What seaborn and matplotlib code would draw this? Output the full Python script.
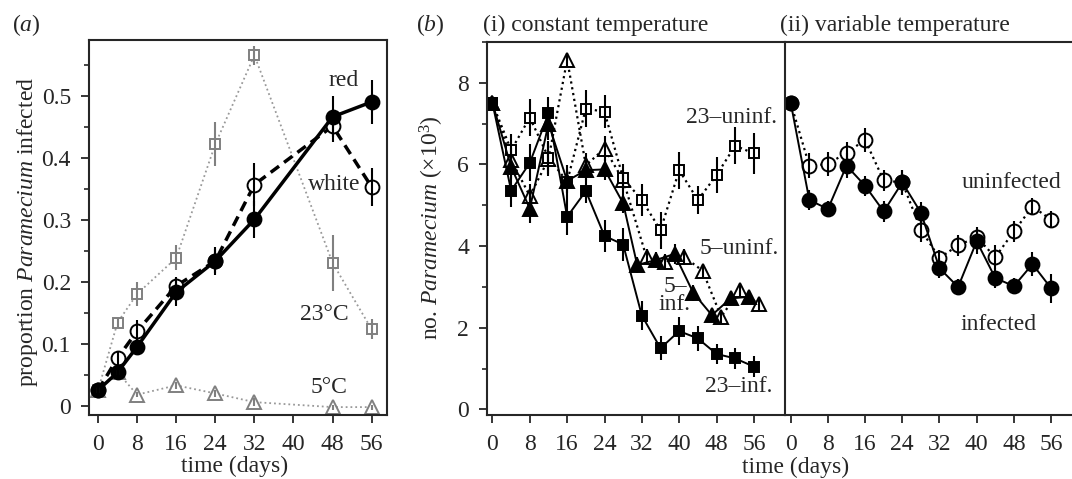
import numpy as np
import pandas as pd
import matplotlib
matplotlib.use('Agg')
import matplotlib.pyplot as plt
import seaborn as sns
from matplotlib.ticker import MultipleLocator

# (a) proportion of Paramecium infected
days_a = [0, 4, 8, 16, 24, 32, 48, 56]
red = [0.026, 0.055, 0.096, 0.184, 0.234, 0.301, 0.466, 0.490]
red_err = [0.005, 0.01, 0.01, 0.022, 0.022, 0.03, 0.033, 0.035]
white = [0.026, 0.078, 0.121, 0.194, 0.234, 0.357, 0.451, 0.353]
white_err = [0.005, 0.012, 0.018, 0.015, 0.02, 0.035, 0.025, 0.03]
temp23 = [0.026, 0.135, 0.181, 0.239, 0.422, 0.565, 0.231, 0.124]
temp23_err = [0.005, 0.008, 0.02, 0.02, 0.035, 0.015, 0.045, 0.016]
temp5 = [0.026, 0.055, 0.019, 0.034, 0.021, 0.007, -0.001, -0.001]
temp5_err = [0.004, 0.004, 0.004, 0.006, 0.006, 0.006, 0.004, 0.004]

# (b)(i) constant temperature, numbers (x1000)
days_b = [0, 4, 8, 12, 16, 20, 24, 28, 32, 36, 40, 44, 48, 52, 56]
days_tri_inf = [0, 4, 8, 12, 16, 20, 24, 28, 31, 35, 39, 43, 47, 51, 55]
days_tri_uninf = [0, 4, 8, 12, 16, 20, 24, 28, 33, 37, 41, 45, 49, 53, 57]
uninf23 = [7.5, 6.35, 7.15, 6.17, 5.58, 7.37, 7.29, 5.66, 5.13, 4.39, 5.86, 5.13, 5.74, 6.46, 6.27]
uninf23_err = [0.1, 0.4, 0.45, 0.4, 0.4, 0.45, 0.4, 0.35, 0.4, 0.45, 0.45, 0.35, 0.45, 0.45, 0.5]
inf23 = [7.5, 5.36, 6.04, 7.25, 4.72, 5.35, 4.25, 4.04, 2.30, 1.50, 1.92, 1.74, 1.36, 1.25, 1.05]
inf23_err = [0.1, 0.4, 0.45, 0.4, 0.45, 0.3, 0.4, 0.4, 0.35, 0.3, 0.35, 0.3, 0.25, 0.25, 0.25]
inf5 = [7.5, 5.94, 4.92, 7.0, 5.6, 5.86, 5.88, 5.05, 3.54, 3.66, 3.81, 2.86, 2.31, 2.72, 2.76]
inf5_err = [0.1, 0.3, 0.35, 0.4, 0.3, 0.25, 0.25, 0.25, 0.2, 0.2, 0.25, 0.2, 0.15, 0.15, 0.15]
uninf5 = [7.5, 6.11, 5.23, 6.13, 8.57, 5.98, 6.39, 5.62, 3.73, 3.62, 3.74, 3.40, 2.27, 2.93, 2.58]
uninf5_err = [0.1, 0.3, 0.3, 0.4, 0.15, 0.3, 0.3, 0.25, 0.2, 0.2, 0.2, 0.15, 0.15, 0.15, 0.15]

# (b)(ii) variable temperature
var_inf = [7.51, 5.13, 4.91, 5.97, 5.48, 4.85, 5.56, 4.82, 3.46, 3.0, 4.12, 3.22, 3.02, 3.56, 2.97]
var_inf_err = [0.05, 0.25, 0.2, 0.3, 0.25, 0.25, 0.3, 0.25, 0.25, 0.2, 0.3, 0.25, 0.2, 0.3, 0.35]
var_uninf = [7.51, 5.97, 6.01, 6.29, 6.6, 5.61, 5.56, 4.4, 3.71, 4.02, 4.22, 3.73, 4.36, 4.97, 4.65]
var_uninf_err = [0.05, 0.3, 0.3, 0.25, 0.3, 0.25, 0.3, 0.3, 0.2, 0.25, 0.25, 0.3, 0.25, 0.2, 0.2]

sns.set_style("ticks")
plt.rcParams['font.family'] = ['Liberation Serif', 'DejaVu Serif']
plt.rcParams['mathtext.fontset'] = 'custom'
plt.rcParams['mathtext.rm'] = 'Liberation Serif'
plt.rcParams['mathtext.it'] = 'Liberation Serif:italic'
FS = 17
plt.rcParams['font.size'] = FS

W, H = 1072, 479
fig = plt.figure(figsize=(W / 100, H / 100), dpi=100)
ax_a = fig.add_axes([89 / W, 1 - 415 / H, (386.7 - 89) / W, 375 / H])
ax_b1 = fig.add_axes([487.3 / W, 1 - 415 / H, (785 - 487.3) / W, 373 / H])
ax_b2 = fig.add_axes([785 / W, 1 - 415 / H, (W - 785) / W, 373 / H])

GREY = '#808080'


def series(ax, x, y, err, color, marker, ms, face, ls, lw, lcolor=None):
    sns.lineplot(x=x, y=y, ax=ax, color=lcolor or color, marker=marker, markersize=ms,
                 markerfacecolor=face, markeredgecolor=color, markeredgewidth=1.4,
                 linestyle=ls, linewidth=lw, zorder=2)
    ax.errorbar(x, y, yerr=err, fmt='none', ecolor=color,
                elinewidth=1.5, capsize=0, zorder=3)


# panel (a)
series(ax_a, days_a, temp5, temp5_err, GREY, '^', 10, 'white', ':', 1.3, '#999999')
series(ax_a, days_a, temp23, temp23_err, GREY, 's', 7.5, 'white', ':', 1.3, '#999999')
series(ax_a, days_a, white, white_err, 'black', 'o', 10, 'white', (0, (3, 1.8)), 2.5)
series(ax_a, days_a, red, red_err, 'black', 'o', 10, 'black', '-', 2.5)
ax_a.text(50.3, 0.524, 'red', ha='center', va='center')
ax_a.text(48.4, 0.357, 'white', ha='center', va='center')
ax_a.text(46.4, 0.148, '23°C', ha='center', va='center')
ax_a.text(47.2, 0.030, '5°C', ha='center', va='center')
ax_a.set_xlim(-1.84, 59.07)
ax_a.set_ylim(-0.0137, 0.5896)
ax_a.set_xticks([0, 8, 16, 24, 32, 40, 48, 56])
ax_a.set_yticks([0, 0.1, 0.2, 0.3, 0.4, 0.5])
ax_a.set_yticklabels(['0', '0.1', '0.2', '0.3', '0.4', '0.5'])
ax_a.yaxis.set_minor_locator(MultipleLocator(0.05))

# panel (b)(i)
series(ax_b1, days_tri_uninf, uninf5, uninf5_err, 'black', '^', 10, 'white', ':', 1.6)
series(ax_b1, days_b, uninf23, uninf23_err, 'black', 's', 7.5, 'white', ':', 1.6)
series(ax_b1, days_tri_inf, inf5, inf5_err, 'black', '^', 10, 'black', '-', 1.4)
series(ax_b1, days_b, inf23, inf23_err, 'black', 's', 7.5, 'black', '-', 1.4)
ax_b1.text(51.3, 7.15, '23–uninf.', ha='center', va='center')
ax_b1.text(52.9, 3.95, '5–uninf.', ha='center', va='center')
ax_b1.text(39.1, 2.80, '5–\ninf.', ha='center', va='center', linespacing=0.8)
ax_b1.text(52.7, 0.56, '23–inf.', ha='center', va='center')
ax_b1.set_xlim(-1.11, 62.67)
ax_b1.set_ylim(-0.135, 9.0)
ax_b1.set_xticks([0, 8, 16, 24, 32, 40, 48, 56])
ax_b1.set_yticks([0, 2, 4, 6, 8])
ax_b1.yaxis.set_minor_locator(MultipleLocator(1))
ax_b1.spines['right'].set_visible(False)

# panel (b)(ii)
series(ax_b2, days_b, var_uninf, var_uninf_err, 'black', 'o', 10, 'white', ':', 1.6)
series(ax_b2, days_b, var_inf, var_inf_err, 'black', 'o', 10, 'black', '-', 1.4)
ax_b2.text(47.5, 5.55, 'uninfected', ha='center', va='center')
ax_b2.text(44.6, 2.07, 'infected', ha='center', va='center')
ax_b2.set_xlim(-1.23, 60.5)
ax_b2.set_ylim(-0.135, 9.0)
ax_b2.set_xticks([0, 8, 16, 24, 32, 40, 48, 56])
ax_b2.set_yticks([])
ax_b2.spines['right'].set_visible(False)

for ax in (ax_a, ax_b1, ax_b2):
    for s in ax.spines.values():
        s.set_linewidth(1.5)
    ax.tick_params(which='major', direction='out', length=6, width=1.3, labelsize=FS)
    ax.tick_params(axis='x', which='major', pad=8)
    ax.tick_params(axis='y', which='major', pad=7)
    ax.tick_params(which='minor', direction='out', length=3.5, width=1.2)
    ax.set_xlabel('')
    ax.set_ylabel('')

# labels and panel titles
fig.text(235 / W, 1 - 466 / H, 'time (days)', ha='center', va='center', fontsize=FS)
fig.text(796 / W, 1 - 467 / H, 'time (days)', ha='center', va='center', fontsize=FS)
fig.text(28 / W, 1 - 232 / H, r'proportion $\mathit{Paramecium}$ infected',
         rotation=90, ha='center', va='center', fontsize=FS)
fig.text(432 / W, 1 - 228 / H, r'no. $\mathit{Paramecium}$ (×10$^3$)',
         rotation=90, ha='center', va='center', fontsize=FS)
fig.text(12 / W, 1 - 25 / H, r'($\mathit{a}$)', ha='left', va='center', fontsize=FS)
fig.text(416 / W, 1 - 25 / H, r'($\mathit{b}$)', ha='left', va='center', fontsize=FS)
fig.text(483 / W, 1 - 25 / H, '(i) constant temperature', ha='left', va='center', fontsize=FS)
fig.text(780 / W, 1 - 25 / H, '(ii) variable temperature', ha='left', va='center', fontsize=FS)

fig.savefig('out.png', dpi=100)
